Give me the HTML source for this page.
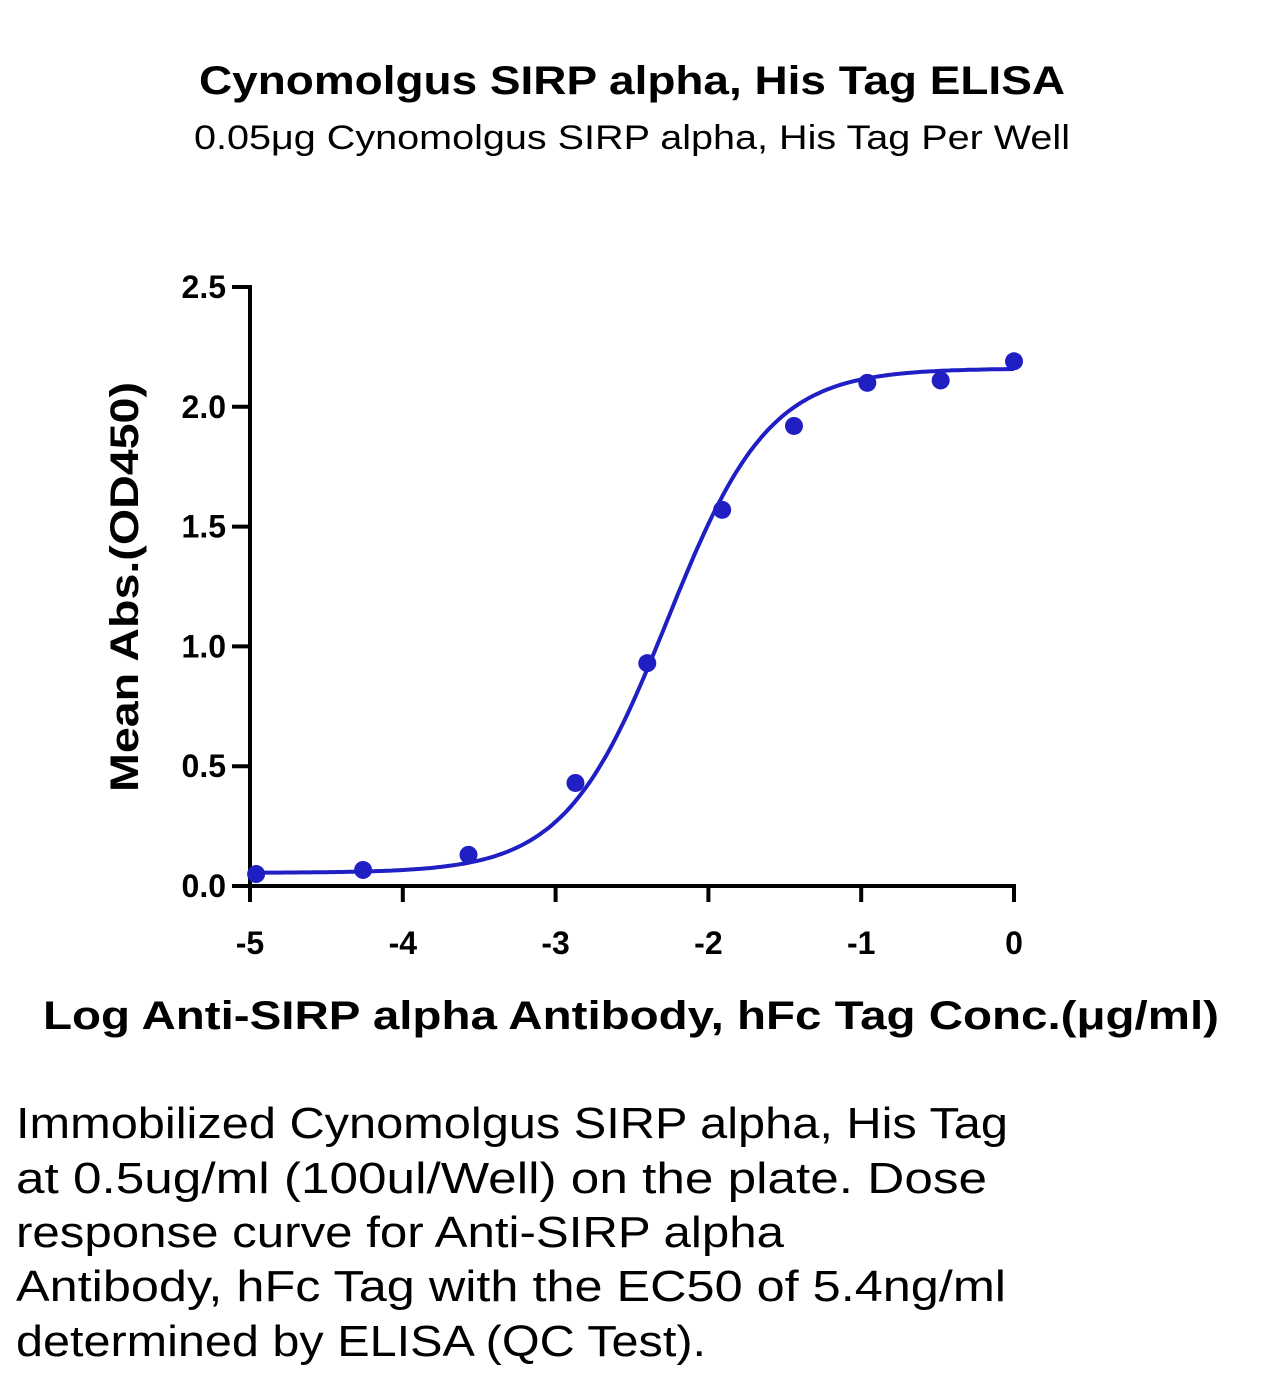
<!DOCTYPE html>
<html><head><meta charset="utf-8"><style>
html,body{margin:0;padding:0;background:#fff;}
svg{display:block;font-family:"Liberation Sans",sans-serif;}
</style></head><body>
<svg id="chart" width="1264" height="1381" viewBox="0 0 1264 1381" xmlns="http://www.w3.org/2000/svg">
<text x="632" y="94" text-anchor="middle" font-size="40" font-weight="bold" textLength="866" lengthAdjust="spacingAndGlyphs">Cynomolgus SIRP alpha, His Tag ELISA</text>
<text x="632" y="149" text-anchor="middle" font-size="34" textLength="876" lengthAdjust="spacingAndGlyphs">0.05μg Cynomolgus SIRP alpha, His Tag Per Well</text>
<g id="axes"></g>
<g id="marks"></g>
<text transform="translate(138,587) rotate(-90)" text-anchor="middle" font-size="40" font-weight="bold" textLength="410" lengthAdjust="spacingAndGlyphs">Mean Abs.(OD450)</text>
<text x="631" y="1029" text-anchor="middle" font-size="40" font-weight="bold" textLength="1176" lengthAdjust="spacingAndGlyphs">Log Anti-SIRP alpha Antibody, hFc Tag Conc.(μg/ml)</text>
<g font-size="44">
<text x="16" y="1138" textLength="992" lengthAdjust="spacingAndGlyphs">Immobilized Cynomolgus SIRP alpha, His Tag</text>
<text x="16" y="1193" textLength="971" lengthAdjust="spacingAndGlyphs">at 0.5ug/ml (100ul/Well) on the plate. Dose</text>
<text x="16" y="1247" textLength="768" lengthAdjust="spacingAndGlyphs">response curve for Anti-SIRP alpha</text>
<text x="16" y="1301" textLength="990" lengthAdjust="spacingAndGlyphs">Antibody, hFc Tag with the EC50 of 5.4ng/ml</text>
<text x="16" y="1356" textLength="690" lengthAdjust="spacingAndGlyphs">determined by ELISA (QC Test).</text>
</g>
</svg>
<script>
const xValues = [-4.96, -4.26, -3.57, -2.87, -2.40, -1.91, -1.44, -0.96, -0.48, 0];
const yValues = [0.05, 0.067, 0.13, 0.43, 0.93, 1.57, 1.92, 2.10, 2.11, 2.19];
const xTicks = [-5, -4, -3, -2, -1, 0];
const yTicks = ["0.0", "0.5", "1.0", "1.5", "2.0", "2.5"];
const fitBottom = 0.055, fitTop = 2.16, fitLogEC50 = -2.27, fitHill = 1.3;

const NS = "http://www.w3.org/2000/svg";
const X0 = 250, X1 = 1014, Y0 = 886, Y1 = 287;
const xs = v => X0 + (v + 5) / 5 * (X1 - X0);
const ys = v => Y0 - v / 2.5 * (Y0 - Y1);
function mk(tag, attrs, parent) {
  const e = document.createElementNS(NS, tag);
  for (const k in attrs) e.setAttribute(k, attrs[k]);
  parent.appendChild(e);
  return e;
}
const axes = document.getElementById("axes");
const marks = document.getElementById("marks");
const xa = mk("line", {x1: X0, y1: Y0, x2: X1 + 2, y2: Y0, stroke: "#000", "stroke-width": 4}, axes);


const ya = mk("line", {x1: X0, y1: Y1 - 2, x2: X0, y2: Y0 + 2, stroke: "#000", "stroke-width": 4}, axes);


xTicks.forEach(t => {
  const l = mk("line", {x1: xs(t), y1: Y0, x2: xs(t), y2: Y0 + 16, stroke: "#000", "stroke-width": 4}, axes);
  
  
  const tx = mk("text", {x: xs(t), y: 954, "text-anchor": "middle", "font-size": 32, "font-weight": "bold"}, axes);
  tx.textContent = String(t);
  
  
});
yTicks.forEach(t => {
  const v = parseFloat(t);
  const l = mk("line", {x1: X0 - 18, y1: ys(v), x2: X0, y2: ys(v), stroke: "#000", "stroke-width": 4}, axes);
  
  
  const tx = mk("text", {x: 226, y: ys(v) + 11, "text-anchor": "end", "font-size": 32, "font-weight": "bold"}, axes);
  tx.textContent = t;
  
  
});
let d = "";
for (let i = 0; i <= 200; i++) {
  const x = -5 + i * 5 / 200;
  const y = fitBottom + (fitTop - fitBottom) / (1 + Math.pow(10, (fitLogEC50 - x) * fitHill));
  d += (i ? "L" : "M") + xs(x).toFixed(1) + "," + ys(y).toFixed(1);
}
const curve = mk("path", {d: d, fill: "none", stroke: "#1f1fc4", "stroke-width": 4}, marks);


xValues.forEach((x, i) => {
  const c = mk("circle", {cx: xs(x), cy: ys(yValues[i]), r: 9, fill: "#1f1fc4"}, marks);
  
  
});
</script>
</body></html>
